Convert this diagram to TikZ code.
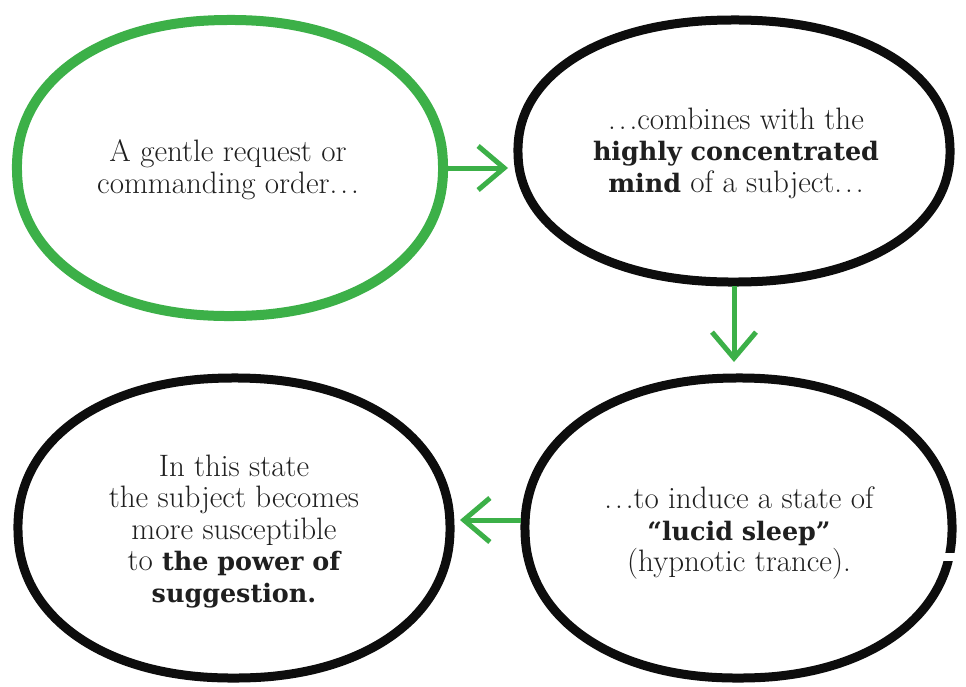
\documentclass[tikz,border=0pt]{standalone}
\usepackage{fontspec}
\newfontfamily\slabbold{DejaVu Serif}[Scale=0.82]
\usetikzlibrary{shapes.geometric,arrows.meta}
\definecolor{hgreen}{RGB}{60,176,72}
\newcommand{\hb}[1]{{\slabbold\bfseries #1}}
\newcommand{\eld}{.\kern3pt.\kern3pt.}
% superellipse outline: centre x, centre y, half width, half height
\newcommand{\blob}[5]{%
  \draw[#5] plot[domain=1:358, samples=120, smooth cycle, variable=\t]
   ({#1 + #3*sign(cos(\t))*abs(cos(\t))^0.93},
    {#2 + #4*sign(sin(\t))*abs(sin(\t))^0.93});}
\begin{document}
\begin{tikzpicture}[x=1pt,y=-1pt,
  shell/.style={ellipse, draw=none, inner sep=0pt, outer sep=0pt},
  outline/.style={draw=black!95, line width=9pt},
  txt/.style={align=center, inner sep=0pt, font=\fontsize{31}{31.5}\selectfont, text=black!88},
  flow/.style={draw=hgreen, line width=5pt,
    -{Straight Barb[length=26pt,width=44pt,line width=5pt]}}]
\fill[white] (0,0) rectangle (966,686);
\useasboundingbox (0,0) rectangle (966,686);

\node[shell, minimum width=426pt, minimum height=296pt] (e1) at (230,168) {};
\node[shell, minimum width=432pt, minimum height=262pt] (e2) at (734,151) {};
\node[shell, minimum width=427pt, minimum height=300pt] (e3) at (738,528) {};
\node[shell, minimum width=432pt, minimum height=300pt] (e4) at (234,528) {};

\blob{230}{168}{213}{148}{outline, draw=hgreen, line width=10pt}
\blob{734}{151}{216}{131}{outline}
\blob{738.5}{528}{213.5}{150}{outline}
\blob{234}{528}{216}{150}{outline}

\fill[white] (938,553) rectangle (962,561);

\node[txt] (t1) at (228,169.5) {A gentle request or\\commanding order\eld};
\node[txt] (t2) at (736,153) {\eld combines with the\\\hb{highly concentrated}\\\hb{mind} of a subject\eld};
\node[txt] (t3) at (739,533) {\eld to induce a state of\\\hb{“lucid sleep”}\\(hypnotic trance).};
\node[txt] (t4) at (234,531.5) {In this state\\the subject becomes\\more susceptible\\to \hb{the power of}\\\hb{suggestion.}};

\draw[flow, shorten <=3pt, shorten >=10pt] (e1.east) -- (e1.east -| e2.west);
\draw[flow, shorten <=4pt, shorten >=16pt] (e2.south) -- (e2.south |- e3.north);
\draw[flow, shorten <=4pt, shorten >=10pt] ([yshift=8pt]e3.west) -- ([yshift=8pt]e4.east);
\end{tikzpicture}
\end{document}
